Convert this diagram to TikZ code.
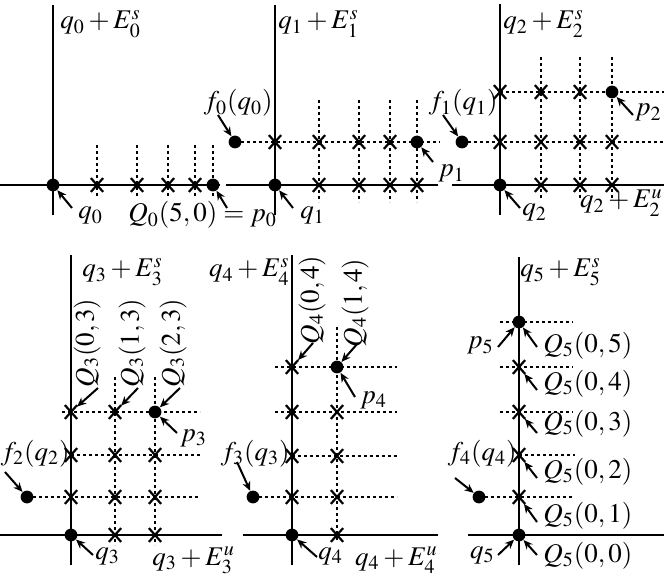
\documentclass[tikz,border=0pt]{standalone}
\usepackage{mathptmx}
\usetikzlibrary{arrows.meta,shapes.misc}
\begin{document}
\begin{tikzpicture}[x=0.5pt,y=-0.5pt,
  axis/.style={line width=1pt},
  grid/.style={line width=0.65pt, dash pattern=on 1.6pt off 1.4pt},
  dot/.style={circle, fill=black, inner sep=0pt, minimum size=6.4pt},
  xmark/.style={cross out, draw=black, line width=1.1pt, inner sep=0pt, minimum width=5pt, minimum height=5.8pt},
  arr/.style={line width=1pt, -{Stealth[length=4.6pt,width=4pt]}},
  lab/.style={inner sep=0pt, anchor=base west, font=\fontsize{13.5}{16}\selectfont},
  labr/.style={lab, anchor=base east},
  rlab/.style={inner sep=0pt, rotate=90, font=\fontsize{13.5}{16}\selectfont}]
\useasboundingbox (0,0) rectangle (664,577);

% axes
\draw[axis] (53,5) -- (53,215);   \draw[axis] (0,185) -- (220,185);
\draw[axis] (275,5) -- (275,215); \draw[axis] (226,185) -- (438,185);
\draw[axis] (500,4) -- (500,215); \draw[axis] (452,185) -- (664,185);
\draw[axis] (71,255) -- (71,565); \draw[axis] (0,535) -- (222,535);
\draw[axis] (292,255) -- (292,565); \draw[axis] (243,535) -- (438,535);
\draw[axis] (519,257) -- (519,565); \draw[axis] (468,535) -- (664,535);

% grid lines
\foreach \x in {97,137,168,195,213} \draw[grid] (\x,145) -- (\x,197);
\draw[grid] (235,142) -- (440,142);
\foreach \x in {319,359,390,417} \draw[grid] (\x,100) -- (\x,202);
\draw[grid] (462,142) -- (664,142);
\draw[grid] (500,92) -- (664,92);
\foreach \x in {541,580,612} \draw[grid] (\x,57) -- (\x,198);
\draw[grid] (62,412) -- (200,412);
\draw[grid] (71,455) -- (200,455);
\draw[grid] (27,497) -- (200,497);
\foreach \x in {115,155} \draw[grid] (\x,377) -- (\x,545);
\draw[grid] (275,367) -- (397,367);
\draw[grid] (275,412) -- (397,412);
\draw[grid] (292,456) -- (397,456);
\draw[grid] (253,497) -- (397,497);
\draw[grid] (337,327) -- (337,542);
\draw[grid] (500,322) -- (573,322);
\draw[grid] (500,367) -- (573,367);
\draw[grid] (500,412) -- (573,412);
\draw[grid] (519,455) -- (575,455);
\draw[grid] (479,497) -- (573,497);

% crosses
\foreach \n/\x/\y in {a1/97/185,a2/137/185,a3/168/185,a4/195/185,
  b1/275/142,b2/319/142,b3/359/142,b4/390/142,b5/319/185,b6/359/185,b7/390/185,b8/417/185,
  c1/500/92,c2/541/92,c3/580/92,c4/500/142,c5/541/142,c6/580/142,c7/612/142,c8/541/185,c9/580/185,c10/612/185,
  d03/71/412,d13/115/412,d02/71/455,d12/115/455,d22/155/455,d01/71/497,d11/115/497,d21/155/497,d10/115/535,d20/155/535,
  e04/292/367,e03/292/412,e13/337/412,e02/292/456,e12/337/456,e01/292/497,e11/337/497,e10/337/535,
  g04/519/367,g03/519/412,g02/519/455,g01/519/497}
  \node[xmark] (\n) at (\x,\y) {};

% dots
\foreach \n/\x/\y in {q0/53/185,p0/213/185,f0/235/142,q1/275/185,p1/417/142,f1/462/142,q2/500/185,p2/612/92,
  f2/27/497,q3/71/535,p3/155/412,f3/253/497,q4/292/535,p4/337/367,f4/479/497,q5/519/535,p5/519/322}
  \node[dot] (\n) at (\x,\y) {};

% labels
\node[lab] (Lq0E) at (60,29) {$q_0+E_0^s$};
\node[lab] (Lq0) at (78,219) {$q_0$};
\node[lab] (LQ0) at (128,222) {$Q_0(5,0)=p_0$};
\node[labr] (Lf0) at (273,110) {$f_0(q_0)$};
\node[lab] (Lq1E) at (278,29) {$q_1+E_1^s$};
\node[lab] (Lq1) at (300,219) {$q_1$};
\node[lab] (Lp1) at (438,177) {$p_1$};
\node[lab] (Lq2E) at (503,29) {$q_2+E_2^s$};
\node[labr] (Lf1) at (498,110) {$f_1(q_1)$};
\node[labr] (Lp2) at (662,116) {$p_2$};
\node[lab] (Lq2) at (522,216) {$q_2$};
\node[labr] (Lq2u) at (663,208) {$q_2+E_2^u$};
\node[lab] (Lq3E) at (82,277) {$q_3+E_3^s$};
\node[rlab] (LQ303) at (87,343) {$Q_3(0,3)$};
\node[rlab] (LQ313) at (132,343) {$Q_3(1,3)$};
\node[rlab] (LQ323) at (173,343) {$Q_3(2,3)$};
\node[labr] (Lf2) at (70,460) {$f_2(q_2)$};
\node[lab] (Lp3) at (180,441) {$p_3$};
\node[lab] (Lq3) at (95,559) {$q_3$};
\node[lab] (Lq3u) at (152,565) {$q_3+E_3^u$};
\node[labr] (Lq4E) at (290,277) {$q_4+E_4^s$};
\node[rlab] (LQ404) at (312,300) {$Q_4(0,4)$};
\node[rlab] (LQ414) at (355,303) {$Q_4(1,4)$};
\node[lab] (Lp4) at (360,403) {$p_4$};
\node[labr] (Lf3) at (290,460) {$f_3(q_3)$};
\node[lab] (Lq4) at (318,559) {$q_4$};
\node[labr] (Lq4u) at (438,565) {$q_4+E_4^u$};
\node[lab] (Lq5E) at (520,277) {$q_5+E_5^s$};
\node[labr] (Lp5) at (494,349) {$p_5$};
\node[lab] (LQ505) at (543,352) {$Q_5(0,5)$};
\node[lab] (LQ504) at (543,390) {$Q_5(0,4)$};
\node[lab] (LQ503) at (543,430) {$Q_5(0,3)$};
\node[lab] (LQ502) at (543,478) {$Q_5(0,2)$};
\node[lab] (LQ501) at (543,522) {$Q_5(0,1)$};
\node[lab] (LQ500) at (543,562) {$Q_5(0,0)$};
\node[labr] (Lf4) at (517,460) {$f_4(q_4)$};
\node[labr] (Lq5) at (495,558) {$q_5$};

% arrow tails
\foreach \n/\x/\y in {tq0/72/208,tp0/227/208,tf0/218/115,tq1/293/208,tp1/433/162,
  tf1/443/115,tq2/520/208,tp2/633/115,
  tf2/5/472,tq3/93/555,tQ303/98/388,tQ313/138/388,tQ323/180/388,tp3/177/433,
  tf3/237/462,tq4/317/557,tQ404/313/343,tQ414/358/343,tp4/355/397,
  tf4/455/478,tp5/498/347,tQ505/537/347,tQ504/537/390,tQ503/537/433,tQ502/537/478,tQ501/537/522,tQ500/537/555,tq5/498/555}
  \coordinate (\n) at (\x,\y);

% arrows
\foreach \a/\b in {tq0/q0,tp0/p0,tf0/f0,tq1/q1,tp1/p1,tf1/f1,tq2/q2,tp2/p2,
  tf2/f2,tq3/q3,tQ303/d03,tQ313/d13,tQ323/p3,tp3/p3,
  tf3/f3,tq4/q4,tQ404/e04,tQ414/p4,tp4/p4,
  tf4/f4,tp5/p5,tQ505/p5,tQ504/g04,tQ503/g03,tQ502/g02,tQ501/g01,tQ500/q5,tq5/q5}
  \draw[arr] (\a) -- (\b);
\end{tikzpicture}
\end{document}
